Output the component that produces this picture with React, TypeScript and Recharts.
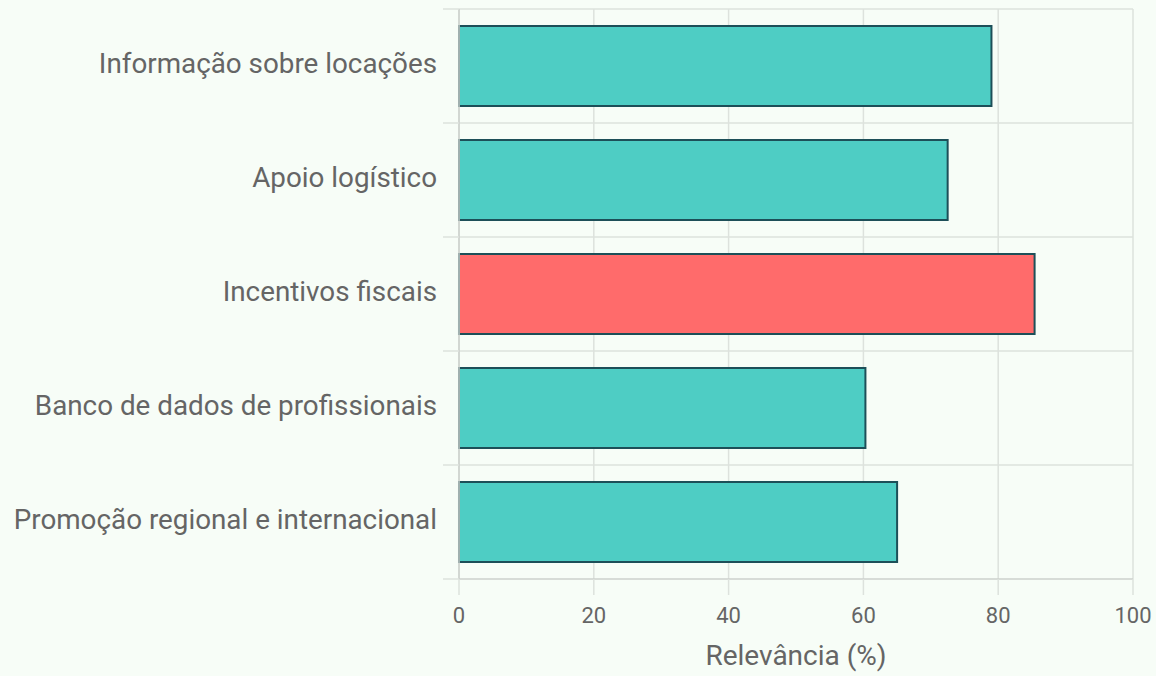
import React from 'react';
import { BarChart, Bar, XAxis, YAxis, CartesianGrid, Cell } from 'recharts';

const categories = [
  'Informação sobre locações',
  'Apoio logístico',
  'Incentivos fiscais',
  'Banco de dados de profissionais',
  'Promoção regional e internacional',
];
const relevance = [79.0, 72.5, 85.4, 60.3, 65.0];
const highlighted = ['Incentivos fiscais'];
const xTicks = [0, 20, 40, 60, 80, 100];

const data = categories.map((name, i) => ({ name, value: relevance[i] }));

const TEXT = '#656565';
const GRID = '#dde2dd';
const AXIS = '#cdd1cd';

// category label plus the short grid stub left of the plot at each band edge
const CategoryTick = (props: any) => {
  const { x, y, payload, index } = props;
  const half = payload?.offset ?? 57;
  const last = index === categories.length - 1;
  return (
    <g>
      <line x1={x + 6} x2={x + 22} y1={y - half} y2={y - half} stroke={GRID} strokeWidth={1.5} />
      {last && (
        <line x1={x + 6} x2={x + 22} y1={y + half} y2={y + half} stroke={GRID} strokeWidth={1.5} />
      )}
      <text x={x} y={y} dy={-3} textAnchor="end" dominantBaseline="central" fill={TEXT} fontSize={27.8}>
        {payload.value}
      </text>
    </g>
  );
};

const App: React.FC = () => {
  return (
    <div
      style={{
        position: 'absolute',
        left: 0,
        top: 0,
        width: 1156,
        height: 676,
        background: '#f7fdf7',
        fontFamily: 'Roboto, sans-serif',
      }}
    >
      <BarChart
        width={1156}
        height={676}
        data={data}
        layout="vertical"
        margin={{ top: 9, right: 23, bottom: 0, left: 0 }}
        barCategoryGap="15%"
      >
        <CartesianGrid
          stroke={GRID}
          strokeWidth={1.5}
          horizontalCoordinatesGenerator={({ offset }: any) =>
            categories.map((_, i) => offset.top + (i * offset.height) / categories.length)
          }
        />
        <YAxis
          type="category"
          dataKey="name"
          width={459}
          tickSize={0}
          tickMargin={22}
          tickLine={false}
          axisLine={{ stroke: AXIS, strokeWidth: 1.5 }}
          tick={<CategoryTick />}
        />
        <XAxis
          type="number"
          domain={[0, 100]}
          ticks={xTicks}
          height={97}
          tickSize={16}
          tickMargin={12}
          tickLine={{ stroke: GRID, strokeWidth: 1.5 }}
          axisLine={{ stroke: AXIS, strokeWidth: 1.5 }}
          tick={{ fill: TEXT, fontSize: 22 }}
          label={{ value: 'Relevância (%)', position: 'insideBottom', offset: 11, fill: TEXT, fontSize: 28 }}
        />
        <Bar dataKey="value" stroke="#1d4f58" strokeWidth={2} isAnimationActive={false}>
          {data.map((d) => (
            <Cell key={d.name} fill={highlighted.includes(d.name) ? '#ff6b6b' : '#4ecdc4'} />
          ))}
        </Bar>
      </BarChart>
    </div>
  );
};

export default App;
